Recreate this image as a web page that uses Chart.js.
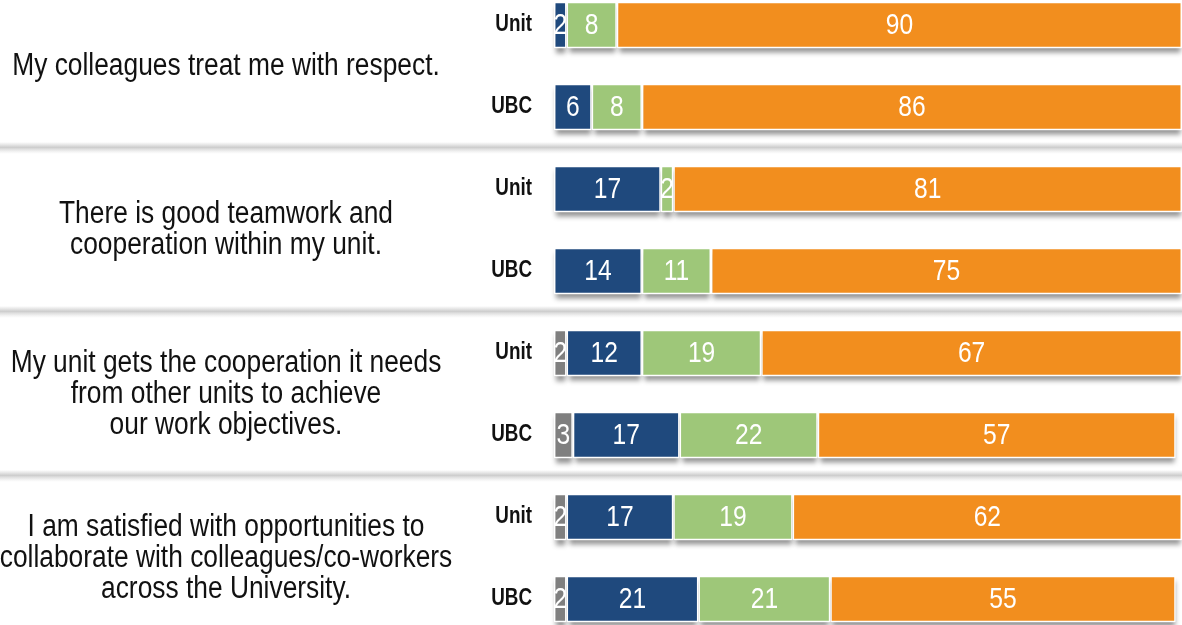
<!DOCTYPE html>
<html>
<head>
<meta charset="utf-8">
<script src="https://cdn.jsdelivr.net/npm/chart.js@4/dist/chart.umd.min.js"></script>
<style>
  html, body { margin: 0; padding: 0; background: #fff; overflow: hidden; }
  #wrap { position: absolute; left: 0; top: -16px; width: 1182px; height: 656px; }
</style>
</head>
<body>
<div id="wrap"><canvas id="c"></canvas></div>
<script>
const rowLabels = ['Unit', 'UBC', 'Unit', 'UBC', 'Unit', 'UBC', 'Unit', 'UBC'];
const questions = [
  ['My colleagues treat me with respect.'],
  ['There is good teamwork and', 'cooperation within my unit.'],
  ['My unit gets the cooperation it needs', 'from other units to achieve', 'our work objectives.'],
  ['I am satisfied with opportunities to', 'collaborate with colleagues/co-workers', 'across the University.']
];
const grayValues   = [0, 0, 0, 0, 2, 3, 2, 2];
const blueValues   = [2, 6, 17, 14, 12, 17, 17, 21];
const greenValues  = [8, 8, 2, 11, 19, 22, 19, 21];
const orangeValues = [90, 86, 81, 75, 67, 57, 62, 55];

const FONT = "'Liberation Sans', Arial, sans-serif";

function drawNarrow(ctx, text, x, y, sx) {
  ctx.save();
  ctx.translate(x, y);
  ctx.scale(sx, 1);
  ctx.fillText(text, 0, 0);
  ctx.restore();
}

const customPlugin = {
  id: 'custom',
  beforeDatasetsDraw(chart) {
    const ctx = chart.ctx;
    const y = chart.scales.y;
    const W = chart.width;
    // group separators
    for (let g = 1; g < 4; g++) {
      const py = (y.getPixelForValue(2 * g - 1) + y.getPixelForValue(2 * g)) / 2;
      const grad = ctx.createLinearGradient(0, py - 6, 0, py + 6);
      grad.addColorStop(0, 'rgba(200,200,200,0)');
      grad.addColorStop(0.45, 'rgba(200,200,200,0.9)');
      grad.addColorStop(0.6, 'rgba(215,215,215,0.8)');
      grad.addColorStop(1, 'rgba(230,230,230,0)');
      ctx.save();
      ctx.fillStyle = grad;
      ctx.fillRect(0, py - 6, W, 12);
      ctx.restore();
    }
    // bar drop shadows
    ctx.save();
    ctx.shadowColor = 'rgba(0,0,0,0.42)';
    ctx.shadowBlur = 5;
    ctx.shadowOffsetY = 5;
    ctx.fillStyle = '#ffffff';
    chart.data.datasets.forEach((ds, i) => {
      const meta = chart.getDatasetMeta(i);
      meta.data.forEach((el, j) => {
        if (!ds.data[j]) return;
        const p = el.getProps(['x', 'y', 'base', 'height'], true);
        const left = Math.min(p.x, p.base) + 2, right = Math.max(p.x, p.base) - 1;
        ctx.fillRect(left, p.y - p.height / 2, right - left, p.height);
      });
    });
    ctx.restore();
  },
  afterDatasetsDraw(chart) {
    const ctx = chart.ctx;
    const y = chart.scales.y;
    ctx.save();
    ctx.textBaseline = 'middle';
    // value labels
    ctx.fillStyle = '#ffffff';
    ctx.font = '30px ' + FONT;
    ctx.textAlign = 'center';
    chart.data.datasets.forEach((ds, i) => {
      const meta = chart.getDatasetMeta(i);
      meta.data.forEach((el, j) => {
        const v = ds.data[j];
        if (!v) return;
        const p = el.getProps(['x', 'y', 'base'], true);
        drawNarrow(ctx, String(v), (p.x + p.base) / 2, p.y + 1, 0.82);
      });
    });
    // row labels (Unit / UBC)
    ctx.fillStyle = '#111111';
    ctx.font = 'bold 23px ' + FONT;
    ctx.textAlign = 'right';
    chart.data.labels.forEach((lab, j) => {
      drawNarrow(ctx, lab, 532, y.getPixelForValue(j), 0.82);
    });
    // question texts
    ctx.font = '31px ' + FONT;
    ctx.textAlign = 'center';
    questions.forEach((lines, g) => {
      const cy = (y.getPixelForValue(2 * g) + y.getPixelForValue(2 * g + 1)) / 2;
      const lh = 31;
      const start = cy - (lines.length - 1) * lh / 2;
      lines.forEach((t, k) => drawNarrow(ctx, t, 226, start + k * lh, 0.85));
    });
    ctx.restore();
  }
};

const ds = (label, data, color) => ({
  label, data,
  backgroundColor: color,
  borderColor: '#ffffff',
  borderWidth: 1.5,
  borderSkipped: false,
  barPercentage: 0.565,
  categoryPercentage: 1.0
});

new Chart(document.getElementById('c'), {
  type: 'bar',
  data: {
    labels: rowLabels,
    datasets: [
      ds('N/A', grayValues, '#7f7f7f'),
      ds('Disagree', blueValues, '#1f497d'),
      ds('Neutral', greenValues, '#9ec779'),
      ds('Agree', orangeValues, '#f28e1e')
    ]
  },
  options: {
    indexAxis: 'y',
    responsive: true,
    maintainAspectRatio: false,
    animation: false,
    layout: { padding: { left: 554, right: 0, top: 0, bottom: 0 } },
    plugins: { legend: { display: false }, tooltip: { enabled: false } },
    scales: {
      x: { stacked: true, min: 0, max: 100, display: false },
      y: { stacked: true, display: false }
    }
  },
  plugins: [customPlugin]
});
</script>
</body>
</html>
